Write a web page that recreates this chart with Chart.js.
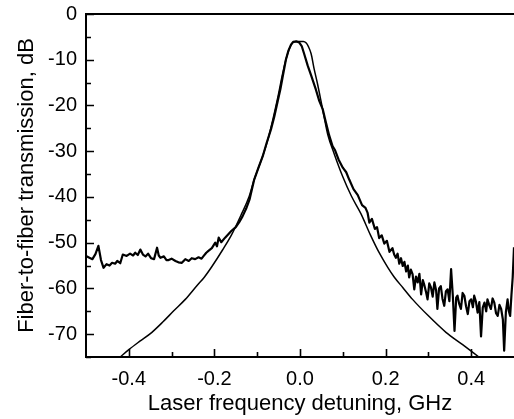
<!DOCTYPE html>
<html>
<head>
<meta charset="utf-8">
<style>
  html, body { margin: 0; padding: 0; background: #fff; }
  #wrap { width: 514px; height: 419px; }
</style>
<script src="https://cdn.jsdelivr.net/npm/chart.js@4.4.1/dist/chart.umd.min.js"></script>
</head>
<body>
<div id="wrap"><canvas id="chart" width="514" height="419"></canvas></div>
<script>
// --- Data ---
// measured transmission (noisy trace)
const measX = [
    -0.500, -0.492, -0.485, -0.478, -0.471, -0.465, -0.459, -0.452, -0.445, -0.439,
    -0.432, -0.427, -0.420, -0.414, -0.405, -0.397, -0.390, -0.385, -0.379, -0.373,
    -0.367, -0.361, -0.355, -0.348, -0.341, -0.334, -0.330, -0.326, -0.318, -0.312,
    -0.307, -0.300, -0.291, -0.284, -0.276, -0.268, -0.260, -0.253, -0.245, -0.237,
    -0.230, -0.225, -0.219, -0.214, -0.206, -0.198, -0.194, -0.190, -0.184, -0.175,
    -0.168, -0.160, -0.150, -0.142, -0.134, -0.126, -0.118, -0.107, -0.097, -0.087,
    -0.078, -0.068, -0.060, -0.052, -0.046, -0.041, -0.033, -0.027, -0.021, -0.016,
    -0.008, -0.002, 0.004, 0.010, 0.018, 0.026, 0.037, 0.045, 0.053, 0.060,
    0.068, 0.076, 0.082, 0.090, 0.100, 0.108, 0.115, 0.125, 0.135, 0.145,
    0.153, 0.158, 0.162, 0.168, 0.175, 0.180, 0.185, 0.191, 0.197, 0.203,
    0.209, 0.216, 0.220, 0.224, 0.228, 0.232, 0.236, 0.240, 0.244, 0.248,
    0.252, 0.255, 0.259, 0.263, 0.267, 0.271, 0.275, 0.279, 0.283, 0.287,
    0.290, 0.294, 0.298, 0.302, 0.306, 0.310, 0.314, 0.318, 0.321, 0.325,
    0.329, 0.333, 0.337, 0.341, 0.345, 0.349, 0.353, 0.357, 0.361, 0.365,
    0.368, 0.372, 0.376, 0.380, 0.384, 0.388, 0.392, 0.396, 0.400, 0.404,
    0.407, 0.411, 0.415, 0.419, 0.423, 0.427, 0.431, 0.435, 0.438, 0.442,
    0.446, 0.450, 0.454, 0.458, 0.462, 0.466, 0.470, 0.474, 0.477, 0.481,
    0.485, 0.488, 0.491, 0.494, 0.497, 0.500
];
const measY = [
    -52.9, -53.3, -53.6, -52.5, -50.7, -53.8, -55.5, -54.7, -55.0, -54.4,
    -54.6, -54.0, -54.5, -52.6, -52.9, -52.4, -52.8, -52.2, -52.7, -51.5,
    -52.6, -53.0, -52.4, -53.4, -53.6, -51.1, -52.8, -53.3, -53.0, -53.8,
    -53.8, -53.5, -54.0, -54.3, -54.4, -53.6, -54.0, -53.4, -53.6, -53.2,
    -53.5, -52.9, -52.2, -51.8, -51.2, -50.0, -50.8, -48.9, -49.9, -48.9,
    -48.2, -47.4, -46.6, -45.5, -44.2, -42.6, -40.6, -36.2, -33.6, -31.1,
    -28.2, -25.3, -22.4, -19.0, -16.5, -14.0, -10.0, -8.0, -6.7, -6.1,
    -6.0, -6.2, -7.0, -8.8, -11.3, -13.4, -16.5, -19.0, -20.8, -23.5,
    -26.5, -28.9, -29.8, -31.8, -33.6, -34.6, -36.2, -38.3, -39.6, -41.8,
    -42.4, -43.5, -45.6, -44.8, -47.0, -46.6, -49.0, -48.4, -50.2, -49.6,
    -52.0, -51.2, -52.6, -53.3, -52.4, -54.6, -53.4, -55.1, -54.2, -56.3,
    -55.0, -57.6, -55.9, -56.9, -60.2, -57.4, -58.7, -56.8, -61.3, -58.2,
    -59.1, -60.6, -62.4, -58.9, -59.8, -61.8, -58.7, -60.4, -64.5, -60.0,
    -59.5, -62.3, -63.8, -60.6, -60.2, -62.8, -55.8, -61.5, -69.3, -62.0,
    -61.6, -63.4, -64.5, -61.0, -61.6, -63.9, -65.6, -62.8, -62.4, -64.1,
    -61.6, -62.9, -65.3, -63.0, -70.5, -64.2, -63.1, -65.0, -62.4, -63.6,
    -64.5, -62.2, -63.1, -65.4, -66.0, -63.6, -64.5, -66.8, -73.6, -65.2,
    -62.4, -65.0, -66.0, -61.5, -57.5, -51.0
];

// calculated response (smooth curve)
const theoryX = [
    -0.420, -0.400, -0.375, -0.346, -0.320, -0.295, -0.268, -0.240, -0.224, -0.205,
    -0.181, -0.160, -0.136, -0.120, -0.107, -0.090, -0.076, -0.064, -0.052, -0.041,
    -0.033, -0.028, -0.022, -0.017, -0.010, 0.000, 0.008, 0.014, 0.020, 0.026,
    0.033, 0.041, 0.049, 0.057, 0.065, 0.080, 0.100, 0.120, 0.142, 0.165,
    0.185, 0.205, 0.220, 0.240, 0.263, 0.300, 0.341, 0.380, 0.418
];
const theoryY = [
    -75.0, -73.4, -71.6, -69.6, -67.3, -64.9, -62.4, -59.3, -57.6, -55.1,
    -51.6, -48.3, -43.6, -40.2, -36.2, -31.8, -27.8, -23.3, -18.3, -13.2,
    -10.0, -8.4, -7.0, -6.3, -6.0, -6.0, -6.0, -6.3, -7.2, -8.7,
    -12.0, -15.3, -19.0, -22.8, -26.4, -30.6, -35.6, -39.8, -43.6, -48.4,
    -52.2, -55.4, -57.5, -59.8, -62.4, -66.0, -69.6, -72.3, -75.0
];

// axis ticks
const xMajor = [-0.4, -0.2, 0.0, 0.2, 0.4];
const xMinor = [-0.3, -0.1, 0.1, 0.3];
const yMajor = [-70, -60, -50, -40, -30, -20, -10, 0];
const yMinor = [-75, -65, -55, -45, -35, -25, -15, -5];

const FONT = "'Liberation Sans', Arial, Helvetica, sans-serif";

function toPoints(xs, ys) {
    return xs.map((x, i) => ({ x: x, y: ys[i] }));
}

// frame + inward ticks, drawn over the curves
const framePlugin = {
    id: 'frame',
    afterDatasetsDraw(chart) {
        const { ctx, chartArea: a, scales } = chart;
        const xs = scales.x, ys = scales.y;
        ctx.save();
        ctx.strokeStyle = '#000';
        ctx.lineWidth = 2;
        ctx.beginPath();
        ctx.moveTo(a.right + 2, a.top);
        ctx.lineTo(a.left, a.top);
        ctx.lineTo(a.left, a.bottom);
        ctx.lineTo(a.right + 2, a.bottom);
        ctx.stroke();

        ctx.lineWidth = 1.6;
        ctx.beginPath();
        const tick = (vals, len, horiz) => {
            vals.forEach(v => {
                if (horiz) {
                    const px = Math.round(xs.getPixelForValue(v)) + 0.5;
                    ctx.moveTo(px, a.bottom);
                    ctx.lineTo(px, a.bottom - len);
                } else {
                    const py = Math.round(ys.getPixelForValue(v)) + 0.5;
                    ctx.moveTo(a.left, py);
                    ctx.lineTo(a.left + len, py);
                }
            });
        };
        tick(xMajor, 8, true);
        tick(xMinor, 5, true);
        tick(yMajor, 8, false);
        tick(yMinor, 5, false);
        ctx.stroke();
        ctx.restore();
    }
};

window.onload = () => {
    const ctx = document.getElementById('chart').getContext('2d');
    new Chart(ctx, {
        type: 'scatter',
        data: {
            datasets: [
                {
                    data: toPoints(measX, measY),
                    showLine: true,
                    borderColor: '#000',
                    borderWidth: 2.2,
                    pointRadius: 0,
                    borderJoinStyle: 'round'
                },
                {
                    data: toPoints(theoryX, theoryY),
                    showLine: true,
                    borderColor: '#000',
                    borderWidth: 1.5,
                    pointRadius: 0,
                    cubicInterpolationMode: 'monotone'
                }
            ]
        },
        options: {
            responsive: false,
            animation: false,
            devicePixelRatio: 1,
            layout: { padding: { top: 14, right: 0, left: 0, bottom: 0 } },
            plugins: { legend: { display: false }, tooltip: { enabled: false } },
            scales: {
                x: {
                    type: 'linear',
                    min: -0.5,
                    max: 0.5,
                    afterBuildTicks: s => { s.ticks = xMajor.map(v => ({ value: v })); },
                    afterFit: s => { s.height = 62; s.paddingLeft = 0; s.paddingRight = 0; },
                    grid: { display: false, drawTicks: false },
                    border: { display: false },
                    ticks: {
                        callback: v => v.toFixed(1),
                        font: { family: FONT, size: 20 },
                        color: '#000',
                        padding: 10,
                        maxRotation: 0,
                        autoSkip: false
                    },
                    title: {
                        display: true,
                        text: 'Laser frequency detuning, GHz',
                        font: { family: FONT, size: 22 },
                        color: '#000',
                        padding: { top: 0, bottom: 2 }
                    }
                },
                y: {
                    min: -75,
                    max: 0,
                    afterBuildTicks: s => { s.ticks = yMajor.map(v => ({ value: v })); },
                    afterFit: s => { s.width = 86; s.paddingTop = 0; s.paddingBottom = 0; },
                    grid: { display: false, drawTicks: false },
                    border: { display: false },
                    ticks: {
                        font: { family: FONT, size: 20 },
                        color: '#000',
                        padding: 9,
                        autoSkip: false
                    },
                    title: {
                        display: true,
                        text: 'Fiber-to-fiber transmission, dB',
                        font: { family: FONT, size: 22 },
                        color: '#000',
                        padding: { top: 14, bottom: 0 }
                    }
                }
            }
        },
        plugins: [framePlugin]
    });
};
</script>
</body>
</html>
